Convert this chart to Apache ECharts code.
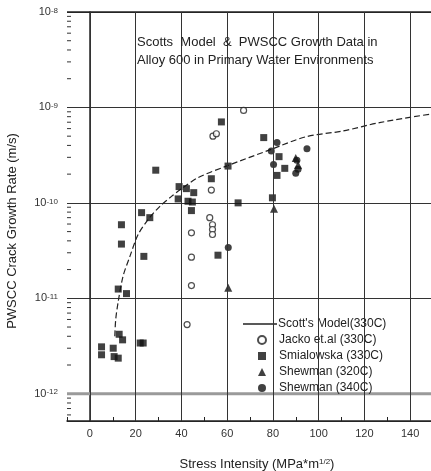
<!doctype html>
<html lang="en">
<head>
<meta charset="UTF-8">
<title>Scotts Model &amp; PWSCC Growth Data</title>
<style>
  html, body { margin: 0; padding: 0; background: #fff; }
  #main { width: 431px; height: 471px; }
</style>
</head>
<body>
<div id="main"></div>
<script src="https://cdn.jsdelivr.net/npm/echarts@6/dist/echarts.min.js"></script>
<script type="text/javascript">
// data: [stress intensity MPa*m^1/2, crack growth rate m/s]
var scottModel = [
    [10.9, 4.0e-12], [11.3, 6.0e-12], [12.4, 9.3e-12], [14.5, 1.70e-11], [17.5, 2.75e-11],
    [21.1, 4.66e-11], [25.5, 6.7e-11], [30.6, 9.2e-11], [35.7, 1.17e-10], [40.7, 1.44e-10],
    [47.3, 1.84e-10], [59.7, 2.43e-10], [79.3, 3.64e-10], [94.6, 4.94e-10], [110.6, 5.66e-10],
    [126.6, 6.93e-10], [150, 8.6e-10]
];
var jacko330 = [
    [67.2, 9.3e-10], [53.8, 5.0e-10], [55.3, 5.3e-10], [53.1, 1.36e-10], [52.4, 7.0e-11],
    [53.6, 5.9e-11], [53.6, 5.26e-11], [53.6, 4.66e-11], [44.4, 4.85e-11], [44.4, 2.7e-11],
    [44.4, 1.36e-11], [42.5, 5.3e-12]
];
var smialowska330 = [
    [28.8, 2.2e-10], [39, 1.48e-10], [42.2, 1.41e-10], [45.4, 1.28e-10], [38.6, 1.10e-10],
    [42.9, 1.04e-10], [44.8, 1.02e-10], [44.4, 8.3e-11], [22.6, 7.9e-11], [26.2, 7.0e-11],
    [13.8, 5.9e-11], [13.8, 3.7e-11], [23.6, 2.75e-11], [12.4, 1.25e-11], [16, 1.12e-11],
    [12.8, 4.2e-12], [14.3, 3.67e-12], [23.3, 3.4e-12], [22, 3.4e-12], [5.1, 3.1e-12],
    [5.1, 2.56e-12], [10.2, 3.0e-12], [10.6, 2.45e-12], [12.4, 2.36e-12], [57.5, 7.05e-10],
    [53.1, 1.79e-10], [60.4, 2.43e-10], [64.8, 1.0e-10], [56, 2.83e-11], [76, 4.83e-10],
    [82.7, 3.05e-10], [85.2, 2.3e-10], [81.8, 1.94e-10], [79.8, 1.13e-10]
];
var shewman320 = [
    [60.5, 1.29e-11], [80.5, 8.7e-11], [90, 2.95e-10], [91, 2.5e-10]
];
var shewman340 = [
    [60.5, 3.4e-11], [81.8, 4.28e-10], [79.3, 3.49e-10], [80.3, 2.53e-10], [90.5, 2.79e-10],
    [91, 2.25e-10], [90, 2.04e-10], [94.9, 3.7e-10]
];
var xGridValues = [0, 20, 40, 60, 80, 100, 120, 140];
var boldDecade = 1e-12;   // drawn as a wide grey line in the original
var yTop = 1e-8;

// log minor ticks 2..9 inside every decade (axis decoration)
var minorTicks = [];
for (var e = -13; e <= -9; e++) {
    for (var k = 2; k <= 9; k++) {
        var v = k * Math.pow(10, e);
        if (v > 5.2e-13 && v < 1e-8) minorTicks.push([v]);
    }
}

var FONT = 'Liberation Sans, Arial, sans-serif';
var chart = echarts.init(document.getElementById('main'));

function hLine(value, color, width) {
    return {
        type: 'custom',
        silent: true,
        z: 2,
        data: [[value]],
        encode: { y: 0 },
        renderItem: function (params, api) {
            var a = api.coord([-10, api.value(0)]);
            var b = api.coord([150, api.value(0)]);
            return {
                type: 'line',
                shape: { x1: a[0], y1: a[1], x2: b[0], y2: b[1] },
                style: { stroke: color, lineWidth: width }
            };
        }
    };
}

var option = {
    backgroundColor: '#fff',
    animation: false,
    textStyle: { fontFamily: FONT },
    title: {
        text: 'Scotts  Model  &  PWSCC Growth Data in\nAlloy 600 in Primary Water Environments',
        left: 137,
        top: 33,
        padding: 0,
        textStyle: { fontSize: 13, fontWeight: 'normal', color: '#222', lineHeight: 18 }
    },
    legend: [{
        orient: 'vertical',
        left: 243,
        top: 317,
        padding: 0,
        itemWidth: 34,
        itemHeight: 1.5,
        textStyle: { fontSize: 12, color: '#222', lineHeight: 14, padding: [0, 0, 0, -4] },
        data: [{ name: "Scott's Model(330C)", icon: 'rect', itemStyle: { color: '#222' } }]
    }, {
        orient: 'vertical',
        left: 257,
        top: 333,
        padding: 0,
        itemWidth: 8,
        itemHeight: 8,
        itemGap: 2,
        textStyle: { fontSize: 12, color: '#222', lineHeight: 14, padding: [0, 0, 0, 8] },
        data: ['Jacko et.al (330C)', 'Smialowska (330C)', 'Shewman (320C)', 'Shewman (340C)']
    }],
    grid: { left: 67, top: 12, width: 366, height: 409, outerBoundsMode: 'none', containLabel: false },
    xAxis: {
        type: 'value',
        min: -10,
        max: 150,
        interval: 10,
        axisLine: { lineStyle: { color: '#222', width: 1.5 } },
        axisTick: { inside: true, length: 4, lineStyle: { color: '#222' } },
        axisLabel: {
            fontSize: 11, color: '#333', margin: 7,
            formatter: function (v) { return v % 20 === 0 && v >= 0 ? String(v) : ''; }
        },
        splitLine: { show: false },
        name: 'Stress Intensity (MPa*m{s|1/2})',
        nameLocation: 'middle',
        nameGap: 37,
        nameTextStyle: {
            fontSize: 13, color: '#222', padding: [0, 0, 0, 14],
            rich: { s: { fontSize: 8, verticalAlign: 'top', lineHeight: 10 } }
        }
    },
    yAxis: {
        type: 'log',
        min: 5.18e-13,
        max: 1e-8,
        axisLine: { lineStyle: { color: '#222', width: 1.5 } },
        axisTick: { show: false },
        axisLabel: {
            showMinLabel: false,
            margin: 9,
            color: '#333',
            formatter: function (v) {
                return '10{s|' + Math.round(Math.log10(v)) + '}';
            },
            rich: { s: { fontSize: 8, verticalAlign: 'top', lineHeight: 8 } },
            fontSize: 11
        },
        splitLine: { show: true, lineStyle: { color: '#333', width: 1 } }
    },
    graphic: [{
        type: 'text',
        x: 12,
        y: 231,
        rotation: Math.PI / 2,
        style: {
            text: 'PWSCC Crack Growth Rate (m/s)',
            fontSize: 13,
            fill: '#222',
            align: 'center',
            verticalAlign: 'middle',
            fontFamily: FONT
        }
    }],
    series: [
        {
            name: 'grid',
            type: 'line',
            data: [],
            z: 1,
            silent: true,
            markLine: {
                silent: true,
                symbol: 'none',
                label: { show: false },
                animation: false,
                lineStyle: { color: '#333', width: 1, type: 'solid' },
                data: xGridValues.map(function (v) { return { xAxis: v }; })
            }
        },
        hLine(boldDecade, '#9a9a9a', 3),
        hLine(yTop, '#222', 1.5),
        {
            name: 'minor',
            type: 'custom',
            silent: true,
            z: 2,
            data: minorTicks,
            renderItem: function (params, api) {
                var p = api.coord([-10, api.value(0)]);
                return {
                    type: 'line',
                    shape: { x1: p[0], y1: p[1], x2: p[0] + 4, y2: p[1] },
                    style: { stroke: '#333', lineWidth: 1 }
                };
            },
            encode: { y: 0 }
        },
        {
            name: "Scott's Model(330C)",
            type: 'line',
            data: scottModel,
            smooth: 0.3,
            symbol: 'none',
            z: 3,
            lineStyle: { color: '#222', width: 1.2, type: [6, 3] },
            itemStyle: { color: '#222' }
        },
        {
            name: 'Jacko et.al (330C)',
            type: 'scatter',
            data: jacko330,
            symbol: 'circle',
            symbolSize: 6,
            z: 4,
            itemStyle: { color: '#fff', borderColor: '#222', borderWidth: 1.2 }
        },
        {
            name: 'Smialowska (330C)',
            type: 'scatter',
            data: smialowska330,
            symbol: 'rect',
            symbolSize: 7,
            z: 4,
            itemStyle: { color: '#111' }
        },
        {
            name: 'Shewman (320C)',
            type: 'scatter',
            data: shewman320,
            symbol: 'triangle',
            symbolSize: 8,
            z: 4,
            itemStyle: { color: '#111' }
        },
        {
            name: 'Shewman (340C)',
            type: 'scatter',
            data: shewman340,
            symbol: 'circle',
            symbolSize: 7,
            z: 4,
            itemStyle: { color: '#111' }
        }
    ]
};

chart.setOption(option);
</script>
</body>
</html>
